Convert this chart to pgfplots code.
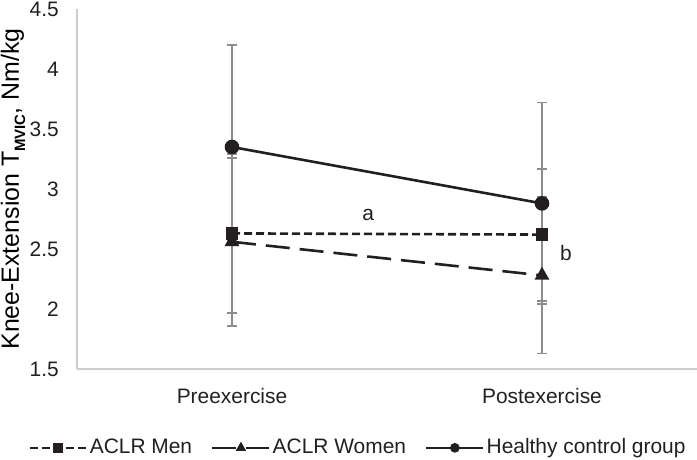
\documentclass[border=0pt]{standalone}
\usepackage{fontspec}
\setmainfont{Liberation Sans}
\usepackage{pgfplots}
\pgfplotsset{compat=1.18}
\definecolor{ink}{RGB}{35,31,32}
\definecolor{errgray}{RGB}{140,140,140}
\definecolor{axgray}{RGB}{205,205,205}
\pgfplotsset{myerr/.style={error bars/.cd, y dir=both, y explicit,
  error bar style={draw=errgray, line width=1.8bp, solid},
  error mark options={rotate=90, mark size=5bp, draw=errgray, line width=1.8bp, solid}}}
\begin{document}
\fontsize{21}{25}\selectfont
\begin{tikzpicture}
\begin{axis}[
  name=ax,
  scale only axis,
  width=620bp, height=360bp,
  xmin=0, xmax=2, ymin=1.5, ymax=4.5,
  xtick={0.5,1.5},
  xticklabels={Preexercise,Postexercise},
  ytick={1.5,2,2.5,3,3.5,4,4.5},
  /pgf/number format/assume math mode=true,
  /pgf/number format/fixed,
  tick label style={font=\fontsize{21}{25}\selectfont, text=ink},
  xticklabel style={yshift=-12bp},
  yticklabel style={xshift=-11bp},
  major tick length=0pt,
  axis x line*=bottom,
  axis y line*=left,
  axis line style={draw=axgray, line width=1.2bp},
  every axis y label/.style={at={(rel axis cs:0,0.5)}, xshift=-64bp, rotate=90, anchor=center},
  ylabel={\fontsize{25}{29}\selectfont Knee-Extension T\raisebox{-0.25em}{\fontsize{15}{15}\selectfont\bfseries MVIC}, Nm/kg},
  legend columns=3,
  legend style={draw=none, fill=none, at={(-0.079,-0.219)}, anchor=west,
    font=\fontsize{21}{25}\selectfont, text=ink, inner sep=0pt,
    nodes={inner sep=2bp},
    /tikz/every even column/.append style={column sep=17bp}},
  legend image code/.code={\draw[mark repeat=2,mark phase=2,#1,mark size=3.5bp] plot coordinates {(0bp,0bp) (28.5bp,0bp) (57bp,0bp)};},
]
% ACLR Men
\addplot[ink, line width=2.6bp, dash pattern=on 8bp off 4bp, mark=square*, mark size=5bp, mark options={solid, fill=ink}, myerr]
  coordinates {(0.5,2.63) +- (0,0.66) (1.5,2.62) +- (0,0.55)};
\addlegendentry{ACLR Men}
% ACLR Women
\addplot[ink, line width=2.6bp, dash pattern=on 24bp off 10bp, mark=triangle*, mark size=6bp, mark options={solid, fill=ink}, myerr]
  coordinates {(0.5,2.56) +- (0,0.70) (1.5,2.28) +- (0,0.65)};
\addlegendentry{ACLR Women}
% Healthy control group
\addplot[ink, line width=2.6bp, solid, mark=*, mark size=6bp, mark options={solid, fill=ink}, myerr]
  coordinates {(0.5,3.35) += (0,0.85) -= (0,0.78) (1.5,2.88) +- (0,0.84)};
\addlegendentry{Healthy control group}
\node[text=ink, font=\fontsize{21}{25}\selectfont] at (axis cs:0.939,2.78) {a};
\node[text=ink, font=\fontsize{21}{25}\selectfont] at (axis cs:1.577,2.47) {b};
\end{axis}
\pgfresetboundingbox
\path ([xshift=-77bp,yshift=-91bp]ax.south west) rectangle ([yshift=9bp]ax.north east);
\end{tikzpicture}
\end{document}
